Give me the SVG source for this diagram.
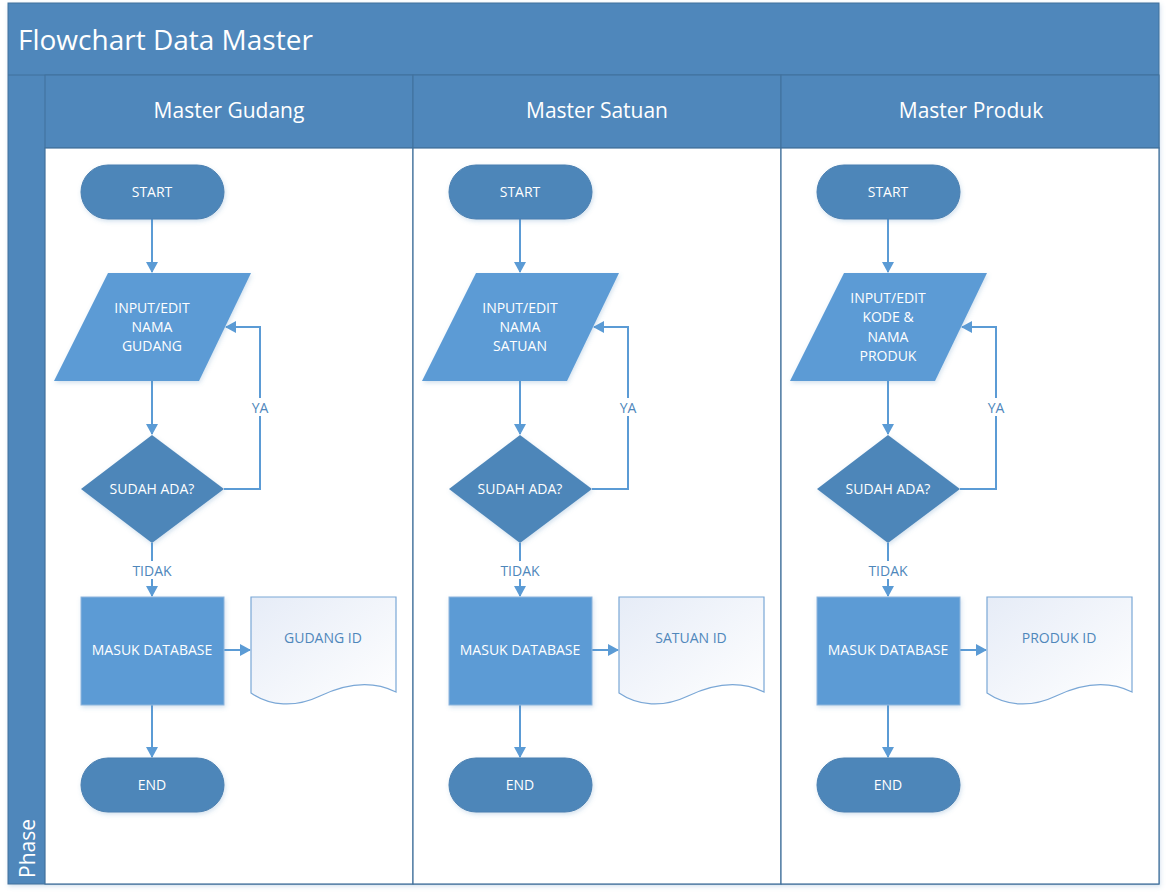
<svg xmlns="http://www.w3.org/2000/svg" width="1167" height="896" viewBox="0 0 1167 896">
<defs>
<style>
.hdr{fill:#4f87bb;stroke:#41719c;stroke-width:1}
.lane{fill:#ffffff;stroke:#41719c;stroke-width:1.2}
.term{fill:#4e86b9;stroke:#4a7fb0;stroke-width:1}
.dec{fill:#4e86b9}
.io{fill:#5b9bd5}
.proc{fill:#5b9bd5;stroke:#8fb6dd;stroke-width:1}
.doc{fill:url(#docg);stroke:#7aa7d6;stroke-width:1.2}
.con{fill:none;stroke:#5b9bd5;stroke-width:2}
.t{font-family:"Open Sans","Noto Sans",sans-serif;font-size:14px;fill:#ffffff;text-anchor:middle}
.lbl{font-family:"Open Sans","Noto Sans",sans-serif;font-size:14px;fill:#4f87bb;text-anchor:middle}
.h{font-family:"Open Sans","Noto Sans",sans-serif;font-size:21px;fill:#ffffff;text-anchor:middle}
</style>
<linearGradient id="docg" x1="0" y1="0" x2="1" y2="1">
<stop offset="0" stop-color="#e6ecf7"/>
<stop offset="1" stop-color="#ffffff"/>
</linearGradient>
<marker id="ah" markerWidth="12" markerHeight="12" refX="10" refY="6" orient="auto" markerUnits="userSpaceOnUse">
<path d="M0,0 L11,6 L0,12 Z" fill="#5b9bd5"/>
</marker>
<filter id="sh" x="-10%" y="-10%" width="125%" height="130%">
<feDropShadow dx="1" dy="2" stdDeviation="2" flood-color="#4f87bb" flood-opacity="0.25"/>
</filter>
</defs>

<g id="frame">
<rect x="8" y="3" width="1151" height="881" class="hdr" filter="url(#sh)"/>
<text x="18" y="50" font-family="'Open Sans','Noto Sans',sans-serif" font-size="28" fill="#ffffff">Flowchart Data Master</text>
<line x1="8" y1="75" x2="1159" y2="75" stroke="#41719c" stroke-width="1"/>
<text transform="translate(35,878) rotate(-90)" font-family="'Open Sans','Noto Sans',sans-serif" font-size="21" fill="#ffffff">Phase</text>
</g>

<g id="lanes">
<rect x="45" y="75" width="368" height="73" class="hdr"/>
<rect x="413" y="75" width="368" height="73" class="hdr"/>
<rect x="781" y="75" width="378" height="73" class="hdr"/>
<rect x="45" y="148" width="368" height="736" class="lane"/>
<rect x="413" y="148" width="368" height="736" class="lane"/>
<rect x="781" y="148" width="378" height="736" class="lane"/>
<text x="229" y="118" class="h">Master Gudang</text>
<text x="597" y="118" class="h">Master Satuan</text>
<text x="971" y="118" class="h">Master Produk</text>
</g>

<g id="connectors">
<!-- lane 1 -->
<line x1="152" y1="219" x2="152" y2="272" class="con" marker-end="url(#ah)"/>
<line x1="152" y1="381" x2="152" y2="434" class="con" marker-end="url(#ah)"/>
<polyline points="224,489 260,489 260,327 226,327" class="con" marker-end="url(#ah)"/>
<line x1="152" y1="543" x2="152" y2="596" class="con" marker-end="url(#ah)"/>
<line x1="224" y1="650" x2="250" y2="650" class="con" marker-end="url(#ah)"/>
<line x1="152" y1="705" x2="152" y2="757" class="con" marker-end="url(#ah)"/>
<!-- lane 2 -->
<line x1="520" y1="219" x2="520" y2="272" class="con" marker-end="url(#ah)"/>
<line x1="520" y1="381" x2="520" y2="434" class="con" marker-end="url(#ah)"/>
<polyline points="592,489 628,489 628,327 594,327" class="con" marker-end="url(#ah)"/>
<line x1="520" y1="543" x2="520" y2="596" class="con" marker-end="url(#ah)"/>
<line x1="592" y1="650" x2="618" y2="650" class="con" marker-end="url(#ah)"/>
<line x1="520" y1="705" x2="520" y2="757" class="con" marker-end="url(#ah)"/>
<!-- lane 3 -->
<line x1="888" y1="219" x2="888" y2="272" class="con" marker-end="url(#ah)"/>
<line x1="888" y1="381" x2="888" y2="434" class="con" marker-end="url(#ah)"/>
<polyline points="960,489 996,489 996,327 962,327" class="con" marker-end="url(#ah)"/>
<line x1="888" y1="543" x2="888" y2="596" class="con" marker-end="url(#ah)"/>
<line x1="960" y1="650" x2="986" y2="650" class="con" marker-end="url(#ah)"/>
<line x1="888" y1="705" x2="888" y2="757" class="con" marker-end="url(#ah)"/>
<!-- labels -->
<rect x="247" y="398" width="26" height="18" fill="#ffffff"/>
<text x="260" y="413" class="lbl">YA</text>
<rect x="615" y="398" width="26" height="18" fill="#ffffff"/>
<text x="628" y="413" class="lbl">YA</text>
<rect x="983" y="398" width="26" height="18" fill="#ffffff"/>
<text x="996" y="413" class="lbl">YA</text>
<rect x="128" y="561" width="48" height="18" fill="#ffffff"/>
<text x="152" y="576" class="lbl">TIDAK</text>
<rect x="496" y="561" width="48" height="18" fill="#ffffff"/>
<text x="520" y="576" class="lbl">TIDAK</text>
<rect x="864" y="561" width="48" height="18" fill="#ffffff"/>
<text x="888" y="576" class="lbl">TIDAK</text>
</g>

<!-- Lane 1 nodes -->
<g id="start1"><rect x="81" y="165" width="143" height="54" rx="27" class="term" filter="url(#sh)"/><text x="152" y="197" class="t">START</text></g>
<g id="input1"><polygon points="108,273 251,273 199,381 54,381" class="io" filter="url(#sh)"/><text x="152" y="313" class="t">INPUT/EDIT</text><text x="152" y="332" class="t">NAMA</text><text x="152" y="351" class="t">GUDANG</text></g>
<g id="dec1"><polygon points="152,435 224,489 152,543 81,489" class="dec" filter="url(#sh)"/><text x="152" y="494" class="t">SUDAH ADA?</text></g>
<g id="proc1"><rect x="81" y="597" width="143" height="108" class="proc" filter="url(#sh)"/><text x="152" y="655" class="t">MASUK DATABASE</text></g>
<g id="doc1"><path d="M251,597 H396 V692 C372,680 345,684 320,696 C295,708 270,706 251,693 Z" class="doc"/><text x="323" y="643" class="lbl">GUDANG ID</text></g>
<g id="end1"><rect x="81" y="758" width="143" height="54" rx="27" class="term" filter="url(#sh)"/><text x="152" y="790" class="t">END</text></g>

<!-- Lane 2 nodes -->
<g id="start2"><rect x="449" y="165" width="143" height="54" rx="27" class="term" filter="url(#sh)"/><text x="520" y="197" class="t">START</text></g>
<g id="input2"><polygon points="476,273 619,273 567,381 422,381" class="io" filter="url(#sh)"/><text x="520" y="313" class="t">INPUT/EDIT</text><text x="520" y="332" class="t">NAMA</text><text x="520" y="351" class="t">SATUAN</text></g>
<g id="dec2"><polygon points="520,435 592,489 520,543 449,489" class="dec" filter="url(#sh)"/><text x="520" y="494" class="t">SUDAH ADA?</text></g>
<g id="proc2"><rect x="449" y="597" width="143" height="108" class="proc" filter="url(#sh)"/><text x="520" y="655" class="t">MASUK DATABASE</text></g>
<g id="doc2"><path d="M619,597 H764 V692 C740,680 713,684 688,696 C663,708 638,706 619,693 Z" class="doc"/><text x="691" y="643" class="lbl">SATUAN ID</text></g>
<g id="end2"><rect x="449" y="758" width="143" height="54" rx="27" class="term" filter="url(#sh)"/><text x="520" y="790" class="t">END</text></g>

<!-- Lane 3 nodes -->
<g id="start3"><rect x="817" y="165" width="143" height="54" rx="27" class="term" filter="url(#sh)"/><text x="888" y="197" class="t">START</text></g>
<g id="input3"><polygon points="844,273 987,273 935,381 790,381" class="io" filter="url(#sh)"/><text x="888" y="303" class="t">INPUT/EDIT</text><text x="888" y="322" class="t">KODE &amp;</text><text x="888" y="342" class="t">NAMA</text><text x="888" y="361" class="t">PRODUK</text></g>
<g id="dec3"><polygon points="888,435 960,489 888,543 817,489" class="dec" filter="url(#sh)"/><text x="888" y="494" class="t">SUDAH ADA?</text></g>
<g id="proc3"><rect x="817" y="597" width="143" height="108" class="proc" filter="url(#sh)"/><text x="888" y="655" class="t">MASUK DATABASE</text></g>
<g id="doc3"><path d="M987,597 H1132 V692 C1108,680 1081,684 1056,696 C1031,708 1006,706 987,693 Z" class="doc"/><text x="1059" y="643" class="lbl">PRODUK ID</text></g>
<g id="end3"><rect x="817" y="758" width="143" height="54" rx="27" class="term" filter="url(#sh)"/><text x="888" y="790" class="t">END</text></g>
</svg>
